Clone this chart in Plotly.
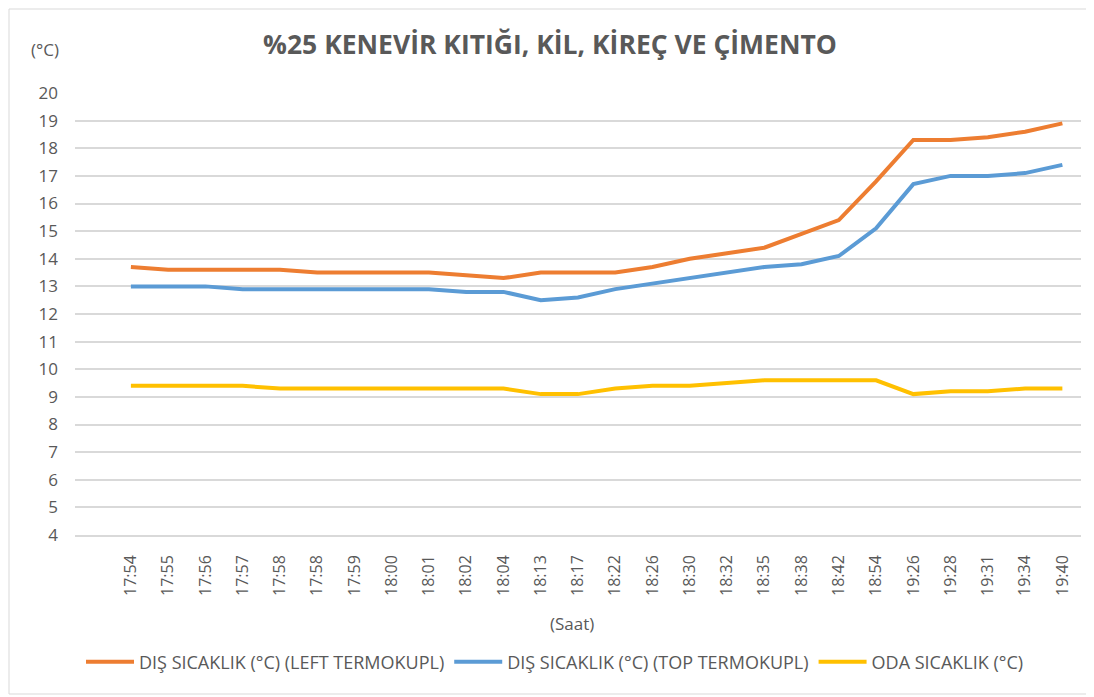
import plotly.graph_objects as go

times = ["17:54", "17:55", "17:56", "17:57", "17:58", "17:58", "17:59", "18:00", "18:01",
         "18:02", "18:04", "18:13", "18:17", "18:22", "18:26", "18:30", "18:32", "18:35",
         "18:38", "18:42", "18:54", "19:26", "19:28", "19:31", "19:34", "19:40"]

left_termokupl = [13.7, 13.6, 13.6, 13.6, 13.6, 13.5, 13.5, 13.5, 13.5, 13.4, 13.3, 13.5, 13.5,
                  13.5, 13.7, 14.0, 14.2, 14.4, 14.9, 15.4, 16.8, 18.3, 18.3, 18.4, 18.6, 18.9]
top_termokupl = [13.0, 13.0, 13.0, 12.9, 12.9, 12.9, 12.9, 12.9, 12.9, 12.8, 12.8, 12.5, 12.6,
                 12.9, 13.1, 13.3, 13.5, 13.7, 13.8, 14.1, 15.1, 16.7, 17.0, 17.0, 17.1, 17.4]
oda = [9.4, 9.4, 9.4, 9.4, 9.3, 9.3, 9.3, 9.3, 9.3, 9.3, 9.3, 9.1, 9.1,
       9.3, 9.4, 9.4, 9.5, 9.6, 9.6, 9.6, 9.6, 9.1, 9.2, 9.2, 9.3, 9.3]

series_names = ["DIŞ SICAKLIK (°C) (LEFT TERMOKUPL)", "DIŞ SICAKLIK (°C) (TOP TERMOKUPL)",
                "ODA SICAKLIK (°C)"]
colors = ["#ED7D31", "#5B9BD5", "#FFC000"]
y_ticks = list(range(4, 21))

FONT = "'Open Sans', sans-serif"
GRAY = "#595959"

# page body has an 8px margin: figure is drawn 8px lower/right
W, H = 1086, 689
PL, PR, PT, PB = 67, 1073, 85, 527   # plot area in figure pixels
PW, PH = PR - PL, PB - PT


def px(x):
    return (x - PL) / PW


def py(y):
    return (PB - y) / PH


x_idx = list(range(len(times)))

fig = go.Figure()
for name, vals, col in zip(series_names, [left_termokupl, top_termokupl, oda], colors):
    fig.add_trace(go.Scatter(x=x_idx, y=vals, mode="lines", name=name,
                             line=dict(color=col, width=4)))

fig.update_layout(
    width=W, height=H,
    paper_bgcolor="white", plot_bgcolor="white",
    margin=dict(l=PL, r=W - PR, t=PT, b=H - PB),
    font=dict(family=FONT, color=GRAY, size=14),
    title=dict(text="<b>%25 KENEVİR KITIĞI, KİL, KİREÇ VE ÇİMENTO</b>",
               x=542 / W, xref="container", y=1 - 37 / H, yref="container",
               xanchor="center", yanchor="middle",
               font=dict(family=FONT, size=26.5, color=GRAY)),
    showlegend=True,
    legend=dict(orientation="h", x=px(547), xanchor="center", y=py(654), yanchor="middle",
                font=dict(family=FONT, size=18, color=GRAY), itemwidth=48,
                traceorder="normal"),
    xaxis=dict(range=[-1.5, 25.5], tickmode="array", tickvals=x_idx, ticktext=times,
               tickangle=-90, showgrid=False, zeroline=False,
               showline=True, linecolor="#D9D9D9", linewidth=1.5,
               ticks="", ticklabelstandoff=12,
               tickfont=dict(family=FONT, size=16, color=GRAY)),
    yaxis=dict(range=[4, 20], tickmode="array", tickvals=y_ticks,
               showgrid=True, gridcolor="#D9D9D9", gridwidth=1.5, zeroline=False,
               showline=False, ticks="", ticklabelstandoff=16,
               tickfont=dict(family=FONT, size=17, color=GRAY)),
    shapes=[dict(type="rect", xref="paper", yref="paper",
                 x0=px(1), x1=px(1083), y0=py(686), y1=py(1),
                 line=dict(color="#D9D9D9", width=1), fillcolor="rgba(0,0,0,0)",
                 layer="below")],
    annotations=[
        dict(text="(°C)", xref="paper", yref="paper", x=px(37), y=py(42),
             xanchor="center", yanchor="middle", showarrow=False,
             font=dict(family=FONT, size=17, color=GRAY)),
        dict(text="(Saat)", xref="paper", yref="paper", x=px(564), y=py(615),
             xanchor="center", yanchor="middle", showarrow=False,
             font=dict(family=FONT, size=17, color=GRAY)),
    ],
)

fig.write_html("out.html")
